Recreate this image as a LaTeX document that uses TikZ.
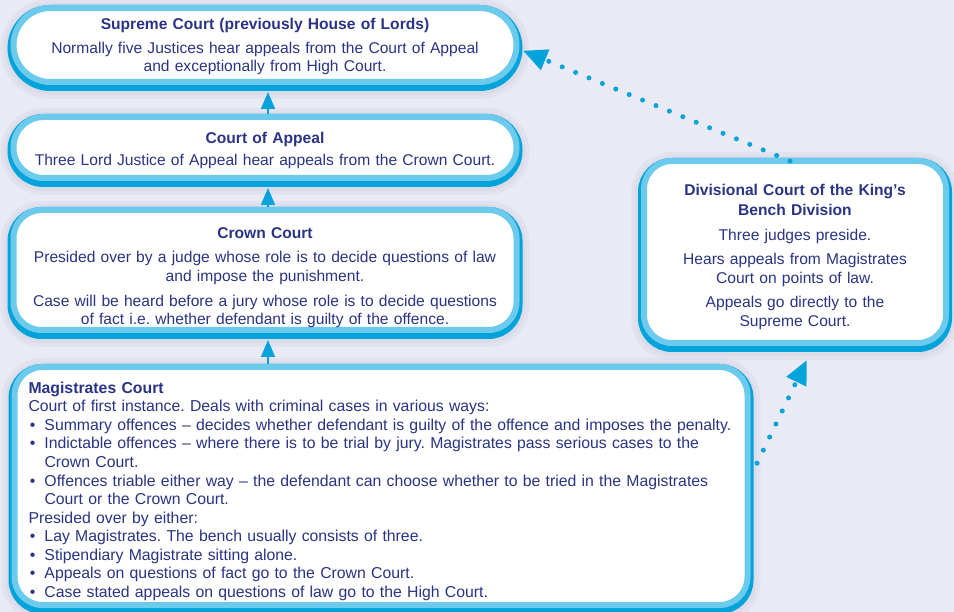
\documentclass[tikz,border=0pt]{standalone}
\usepackage{fontspec}
\setmainfont{Liberation Sans}
\usetikzlibrary{positioning, arrows.meta}

\definecolor{bgcol}{RGB}{234,234,244}
\definecolor{courtdark}{RGB}{0,163,218}
\definecolor{courtlight}{RGB}{108,203,236}
\definecolor{courttext}{RGB}{42,52,132}
\definecolor{courtshadow}{RGB}{110,110,160}

\newcommand{\courtbullet}{\par\noindent\hangindent=16pt\hangafter=1\makebox[16pt][l]{\hspace{1.5pt}\textbullet}}

\tikzstyle{court} = [rectangle, rounded corners=28pt, draw=courtlight, line width=6pt,
    fill=white, outer sep=0pt, inner sep=0pt, text=courttext,
    font=\fontsize{15.6pt}{18.7pt}\selectfont\frenchspacing,
    preaction={draw=courtshadow, draw opacity=0.06, line width=26pt, transform canvas={yshift=-4pt}},
    preaction={draw=courtshadow, draw opacity=0.06, line width=18pt, transform canvas={yshift=-4pt}},
    preaction={draw=courtdark, line width=12pt, transform canvas={yshift=-3pt}}]
\tikzstyle{uparrow} = [courtdark, line width=1.5pt, -{Triangle[width=14pt,length=17pt]}]
\tikzstyle{dotarrow} = [courtdark, line width=5pt, line cap=round,
    dash pattern=on 0pt off 14.5pt, -{Triangle[width=21pt,length=24pt]}]

\begin{document}
\begin{tikzpicture}[x=1pt, y=1pt]

\useasboundingbox (0,0) rectangle (954,-612);
\fill [bgcol] (0,0) rectangle (954,-612);

% Nodes
\node (supreme) [court, rounded corners=37pt, minimum width=503pt, minimum height=74pt,
    text width=480pt, align=center, text height=22pt, text depth=52pt] at (265,-45)
    {\textbf{Supreme Court (previously House of Lords)}\\[4.6pt]
     Normally five Justices hear appeals from the Court of Appeal\\
     and exceptionally from High Court.};
\node (appeal) [court, rounded corners=30pt, minimum width=503pt, minimum height=61pt,
    text width=480pt, align=center, text height=26.3pt, text depth=34.7pt, below=35pt of supreme]
    {\textbf{Court of Appeal}\\[3.7pt]
     Three Lord Justice of Appeal hear appeals from the Crown Court.};
\node (crown) [court, minimum width=503pt, minimum height=120pt,
    text width=480pt, align=center, text height=29pt, text depth=91pt, below=32pt of appeal]
    {\textbf{Crown Court}\\[5.3pt]
     Presided over by a judge whose role is to decide questions of law\\
     and impose the punishment.\\[5.8pt]
     Case will be heard before a jury whose role is to decide questions\\
     of fact i.e. whether defendant is guilty of the offence.};
\node (magistrates) [court, minimum width=733pt, minimum height=238pt,
    text width=719pt, align=left, text height=26.3pt, text depth=211.7pt,
    font=\fontsize{15.8pt}{18.55pt}\selectfont\frenchspacing,
    below=37pt of crown.south west, anchor=north west, xshift=1pt]
    {\leftskip=7pt
     \textbf{Magistrates Court}\par
     Court of first instance. Deals with criminal cases in various ways:
     \courtbullet Summary offences – decides whether defendant is guilty of the offence and imposes the penalty.
     \courtbullet Indictable offences – where there is to be trial by jury. Magistrates pass serious cases to the\newline Crown Court.
     \courtbullet Offences triable either way – the defendant can choose whether to be tried in the Magistrates\newline Court or the Crown Court.\par
     Presided over by either:
     \courtbullet Lay Magistrates. The bench usually consists of three.
     \courtbullet Stipendiary Magistrate sitting alone.
     \courtbullet Appeals on questions of fact go to the Crown Court.
     \courtbullet Case stated appeals on questions of law go to the High Court.\par};
\node (divisional) [court, minimum width=302pt, minimum height=182pt,
    text width=290pt, align=center, text height=34.7pt, text depth=147.3pt] at (795,-252)
    {\textbf{Divisional Court of the King’s}\\[1.3pt]
     \textbf{Bench Division}\\[5.7pt]
     Three judges preside.\\[5.7pt]
     Hears appeals from Magistrates\\
     Court on points of law.\\[5.7pt]
     Appeals go directly to the\\
     Supreme Court.};

% Arrows
\draw [uparrow, shorten <=3pt, shorten >=10pt] ([xshift=3pt]appeal.north) -- ([xshift=3pt]supreme.south);
\draw [uparrow, shorten <=3pt, shorten >=10pt] ([xshift=3pt]crown.north) -- ([xshift=3pt]appeal.south);
\draw [uparrow, shorten <=3pt, shorten >=10pt] ([xshift=3pt]crown.south |- magistrates.north) -- ([xshift=3pt]crown.south);
\draw [dotarrow, shorten >=7pt] ([xshift=-5pt]divisional.north) -- ([yshift=-3pt]supreme.east);
\draw [dotarrow, shorten <=22pt, shorten >=19pt] ([yshift=3pt]magistrates.east) -- ([xshift=20pt]divisional.south);

\end{tikzpicture}
\end{document}
